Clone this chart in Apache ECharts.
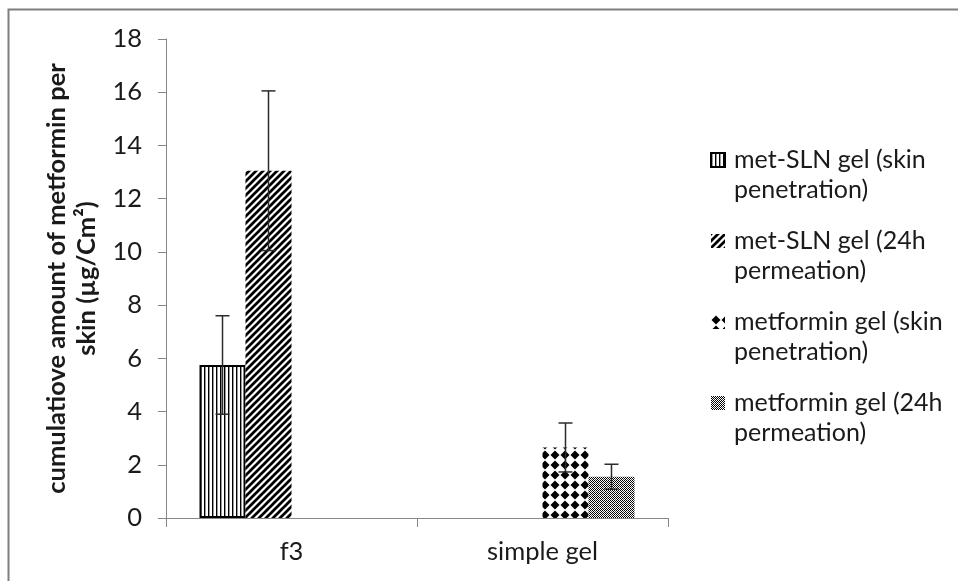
<!DOCTYPE html>
<html><head><meta charset="utf-8">
<script src="https://cdn.jsdelivr.net/npm/echarts@6/dist/echarts.min.js"></script>
<style>html,body{margin:0;padding:0;background:#fff}#c{width:958px;height:581px}</style>
</head><body><div id="c"></div>
<script>
const categories = ['f3', 'simple gel'];
const seriesNames = ['met-SLN gel (skin penetration)', 'met-SLN gel (24h permeation)', 'metformin gel (skin penetration)', 'metformin gel (24h permeation)'];
const legendLines = [['met-SLN gel (skin', 'penetration)'], ['met-SLN gel (24h', 'permeation)'], ['metformin gel (skin', 'penetration)'], ['metformin gel (24h', 'permeation)']];
const slnSkin = [5.75, null];
const slnSkinErr = [1.85, null];
const slnPerm = [13.05, null];
const slnPermErr = [3.0, null];
const metSkin = [null, 2.65];
const metSkinErr = [null, 0.92];
const metPerm = [null, 1.55];
const metPermErr = [null, 0.47];
const yMin = 0, yMax = 18, yStep = 2;
const yTitle = ['cumulatiove amount of metformin per', 'skin (\u00b5g/Cm\u00b2)'];

const FONT = 'Lato';
const FS = 25.5;
const LFS = 25;
const AX = '#868686';

function tile(w, h, draw) {
  const c = document.createElement('canvas');
  c.width = w; c.height = h;
  const g = c.getContext('2d');
  g.fillStyle = '#fff'; g.fillRect(0, 0, w, h);
  draw(g, w, h);
  return { image: c, repeat: 'repeat' };
}
const patVert = tile(4, 4, (g) => { g.fillStyle = '#000'; g.fillRect(0, 0, 1.4, 4); });
const patDiag = tile(7, 7, (g, w, h) => {
  g.strokeStyle = '#000'; g.lineWidth = 2.7;
  for (let k = -1; k <= 1; k++) {
    g.beginPath(); g.moveTo(k * w - 1, h + 1); g.lineTo(k * w + w + 1, -1); g.stroke();
  }
});
const patDiam = tile(10, 10, (g) => {
  g.fillStyle = '#000';
  g.beginPath(); g.moveTo(5, 0.5); g.lineTo(9.5, 5); g.lineTo(5, 9.5); g.lineTo(0.5, 5); g.closePath(); g.fill();
});
const patGray = tile(4, 4, (g) => {
  g.fillStyle = '#000';
  const px = [[0,0],[2,0],[1,1],[3,1],[0,2],[2,2],[1,3]];
  px.forEach(p => g.fillRect(p[0], p[1], 1, 1));
  g.fillStyle = '#444'; g.fillRect(3, 3, 1, 1);
});

const vals = [slnSkin, slnPerm, metSkin, metPerm];
const errs = [slnSkinErr, slnPermErr, metSkinErr, metPermErr];
const pats = [patVert, patDiag, patDiam, patGray];

const errData = [];
vals.forEach((arr, s) => arr.forEach((v, c) => {
  if (v != null) errData.push([c, v - errs[s][c], v + errs[s][c], s]);
}));

const BAR_GAP = '0%', CAT_GAP = '26.7%';
const barSeries = vals.map((arr, s) => ({
  name: seriesNames[s], type: 'bar', data: arr,
  barGap: BAR_GAP, barCategoryGap: CAT_GAP,
  itemStyle: { color: pats[s], borderColor: s === 0 ? '#000' : 'transparent', borderWidth: s === 0 ? 2 : 0 },
  emphasis: { disabled: true }
}));

const legendMap = {};
seriesNames.forEach((n, i) => legendMap[n] = '\n' + legendLines[i].join('\n'));

const chart = echarts.init(document.getElementById('c'), null, { renderer: 'canvas' });
chart.setOption({
  animation: false,
  backgroundColor: '#fff',
  textStyle: { fontFamily: FONT },
  grid: { left: 166, right: 290, top: 39, bottom: 63, containLabel: false },
  xAxis: {
    type: 'category', data: categories,
    axisLine: { lineStyle: { color: AX, width: 1 } },
    axisTick: { show: true, length: 9, lineStyle: { color: AX } },
    axisLabel: { fontSize: FS, color: '#1a1a1a', margin: 21, fontFamily: FONT }
  },
  yAxis: {
    type: 'value', min: yMin, max: yMax, interval: yStep,
    axisLine: { show: true, lineStyle: { color: AX, width: 1 } },
    axisTick: { show: true, length: 8, lineStyle: { color: AX } },
    splitLine: { show: false },
    axisLabel: { fontSize: FS, color: '#1a1a1a', margin: 24, fontFamily: FONT },
    name: yTitle.join('\n'), nameLocation: 'middle', nameRotate: 90, nameGap: 60,
    nameTextStyle: { fontSize: FS, fontWeight: 'bold', color: '#1a1a1a', lineHeight: 30, fontFamily: FONT }
  },
  legend: {
    orient: 'vertical', left: 710, top: 115, padding: 0,
    itemWidth: 14, itemHeight: 14, itemGap: -9, icon: 'rect',
    data: seriesNames,
    formatter: (n) => legendMap[n],
    selectedMode: false,
    textStyle: { fontSize: LFS, color: '#1a1a1a', lineHeight: 30, padding: [0, 0, 0, 4], fontFamily: FONT }
  },
  graphic: [{
    type: 'rect', silent: true, z: -1,
    shape: { x: 8.5, y: 9.5, width: 2000, height: 2000 },
    style: { fill: 'none', stroke: '#7f7f7f', lineWidth: 2 }
  }],
  series: barSeries.concat([{
    type: 'custom', name: 'err', z: 5, silent: true,
    data: errData,
    encode: { x: 0, y: [1, 2] },
    renderItem: (params, api) => {
      const c = api.value(0), lo = api.value(1), hi = api.value(2), s = api.value(3);
      const lay = api.barLayout({ count: 4, barGap: BAR_GAP, barCategoryGap: CAT_GAP });
      const pLo = api.coord([c, lo]), pHi = api.coord([c, hi]);
      const x = pLo[0] + lay[s].offsetCenter;
      const hw = 7;
      const st = { stroke: '#2b2b2b', lineWidth: 1.5 };
      return { type: 'group', children: [
        { type: 'line', shape: { x1: x, y1: pHi[1], x2: x, y2: pLo[1] }, style: st },
        { type: 'line', shape: { x1: x - hw, y1: pHi[1], x2: x + hw, y2: pHi[1] }, style: st },
        { type: 'line', shape: { x1: x - hw, y1: pLo[1], x2: x + hw, y2: pLo[1] }, style: st }
      ] };
    }
  }])
});
</script>
</body></html>
